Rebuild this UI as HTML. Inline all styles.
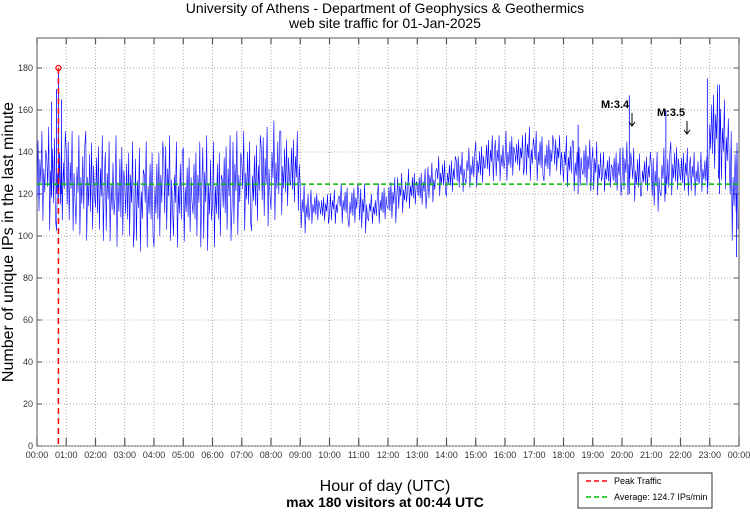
<!DOCTYPE html>
<html><head><meta charset="utf-8"><style>
body{margin:0;background:#fff;width:750px;height:511px;overflow:hidden;font-family:"Liberation Sans",sans-serif}
</style></head><body>
<svg id="c" width="750" height="511" xmlns="http://www.w3.org/2000/svg" font-family="Liberation Sans, sans-serif">
<text x="385" y="13" font-size="14" text-anchor="middle">University of Athens - Department of Geophysics &amp; Geothermics</text>
<text x="385" y="28" font-size="14" text-anchor="middle">web site traffic for 01-Jan-2025</text>
<text transform="translate(13,242) rotate(-90)" font-size="16" text-anchor="middle">Number of unique IPs in the last minute</text>
<text x="385" y="491" font-size="16" text-anchor="middle">Hour of day (UTC)</text>
<text x="385" y="507" font-size="14" font-weight="bold" text-anchor="middle">max 180 visitors at 00:44 UTC</text>
<g id="grid"></g><g id="series"></g><g id="over"></g>
<g>
<rect x="578" y="473" width="134" height="35" fill="#fff" stroke="#333" stroke-width="1"/>
<line x1="586" y1="481" x2="610" y2="481" stroke="#f00" stroke-width="1.5" stroke-dasharray="5,3"/>
<text x="614" y="484" font-size="9">Peak Traffic</text>
<line x1="586" y1="497" x2="610" y2="497" stroke="#0b0" stroke-width="1.5" stroke-dasharray="5,3"/>
<text x="614" y="500" font-size="9">Average: 124.7 IPs/min</text>
</g>
</svg>
<script>
const hiVals=[150,152,150,150,148,150,148,145,148,145,142,145,145,148,145,142,145,148,145,148,150,150,148,152,155,150,150,125,122,120,122,125,125,125,120,125,128,130,132,132,135,138,138,140,142,145,148,148,150,148,152,150,148,148,148,145,146,145,140,142,145,142,140,140,142,145,142,140,140,172,165,150];
const loVals=[105,100,100,100,98,95,95,95,92,92,90,92,92,95,92,95,92,90,92,95,98,100,100,102,105,108,110,100,105,105,105,105,103,100,105,105,105,110,112,112,115,118,118,120,122,122,125,125,125,128,125,125,125,128,122,120,120,118,120,118,118,115,118,110,115,118,118,118,120,125,120,95];
const spikeMin=[30,40,44,50,1110,1215,1290,1375,1400,1435];
const spikeVal=[164,170,180,165,153,167,160,175,172,90];
const yTicks=[0,20,40,60,80,100,120,140,160,180];
const hourLabels=["00:00","01:00","02:00","03:00","04:00","05:00","06:00","07:00","08:00","09:00","10:00","11:00","12:00","13:00","14:00","15:00","16:00","17:00","18:00","19:00","20:00","21:00","22:00","23:00","00:00"];
const avg=124.7, peakMin=44, peakVal=180;
const L=37,R=739,T=38,B=446;
const x=m=>L+m/1440*(R-L);
const y=v=>B-v*2.1;
const NS="http://www.w3.org/2000/svg";
function mk(t,a,p){const e=document.createElementNS(NS,t);for(const k in a)e.setAttribute(k,a[k]);p.appendChild(e);return e;}
const g=document.getElementById('grid'),s=document.getElementById('series'),o=document.getElementById('over');
mk('rect',{x:L,y:T,width:R-L,height:B-T,fill:'none',stroke:'#555','stroke-width':1},g);
yTicks.forEach(v=>{
 const ln=mk('line',{x1:L,x2:R,y1:y(v),y2:y(v),stroke:'#aaa','stroke-dasharray':'1,2'},g);
 
 
 mk('line',{x1:L,x2:L+5,y1:y(v),y2:y(v),stroke:'#555'},g);
 mk('line',{x1:R-5,x2:R,y1:y(v),y2:y(v),stroke:'#555'},g);
 const t=mk('text',{x:L-4,y:y(v)+3,'font-size':9,'text-anchor':'end',fill:'#333'},g);t.textContent=v;
 
 
});
hourLabels.forEach((h,i)=>{
 const xx=x(i*60);
 if(i>0&&i<24){mk('line',{x1:xx,x2:xx,y1:T,y2:B,stroke:'#aaa','stroke-dasharray':'1,2'},g);}
 mk('line',{x1:xx,x2:xx,y1:B-8,y2:B,stroke:'#555','stroke-width':1.2},g);
 mk('line',{x1:xx,x2:xx,y1:T,y2:T+6,stroke:'#555','stroke-width':1.2},g);
 const t=mk('text',{x:xx,y:B+12,'font-size':9,'text-anchor':'middle',fill:'#333'},g);t.textContent=h;
 
 
});
const pat=[0.3,0.9,0.15,0.7,0.45,1,0.05,0.6,0.35,0.8];
let pts=[];
hiVals.forEach((hi,i)=>{const lo=loVals[i];
 for(let k=0;k<10;k++){const m=i*20+k*2;pts.push(x(m).toFixed(1)+','+y(lo+(hi-lo)*pat[(k+i*3)%10]).toFixed(1));}
});
const pl=mk('polyline',{points:pts.join(' '),fill:'none',stroke:'#00f','stroke-width':0.6},s);


spikeMin.forEach((m,i)=>{
 const sp=mk('line',{x1:x(m),x2:x(m),y1:y(120),y2:y(spikeVal[i]),stroke:'#00f','stroke-width':0.8},s);
 
 
});
const av=mk('line',{x1:L,x2:R,y1:y(avg),y2:y(avg),stroke:'#0b0','stroke-width':1.5,'stroke-dasharray':'5,3'},o);


const pk=mk('line',{x1:x(peakMin),x2:x(peakMin),y1:y(peakVal),y2:B,stroke:'#f00','stroke-width':1.5,'stroke-dasharray':'6,4'},o);


const pc=mk('circle',{cx:x(peakMin),cy:y(peakVal),r:2.5,fill:'none',stroke:'#f00','stroke-width':1.2},o);


[[601,108,'M:3.4',632],[657,116,'M:3.5',687]].forEach(a=>{
 const t=mk('text',{x:a[0],y:a[1],'font-size':11,'font-weight':'bold'},o);t.textContent=a[2];
 
 
 mk('line',{x1:a[3],x2:a[3],y1:a[1]+5,y2:a[1]+18,stroke:'#000','stroke-width':1},o);
 mk('polyline',{points:(a[3]-3)+','+(a[1]+14)+' '+a[3]+','+(a[1]+18)+' '+(a[3]+3)+','+(a[1]+14),fill:'none',stroke:'#000'},o);
});
</script>
</body></html>
